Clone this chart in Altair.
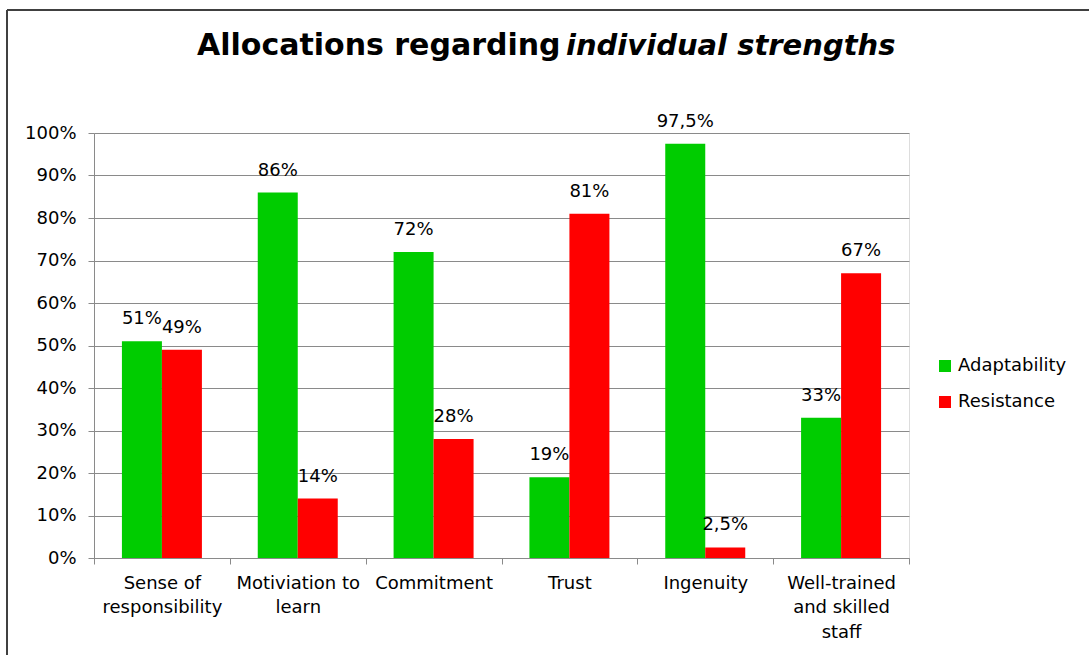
import altair as alt
import pandas as pd

categories = ["Sense of responsibility", "Motiviation to learn", "Commitment",
              "Trust", "Ingenuity", "Well-trained and skilled staff"]
label_lines = ["Sense of|responsibility", "Motiviation to|learn", "Commitment",
               "Trust", "Ingenuity", "Well-trained|and skilled|staff"]
series = ["Adaptability", "Resistance"]
adaptability = [51, 86, 72, 19, 97.5, 33]
resistance = [49, 14, 28, 81, 2.5, 67]
colors = ["#00CC00", "#FF0000"]
y_ticks = [0, 10, 20, 30, 40, 50, 60, 70, 80, 90, 100]

rows = []
for i, c in enumerate(label_lines):
    for s, vals in zip(series, [adaptability, resistance]):
        v = vals[i]
        rows.append({"category": c, "series": s, "value": v,
                     "label": f"{v:g}%".replace(".", ",")})
df = pd.DataFrame(rows)

FONT = "DejaVu Sans"
GRAY = "#8a8a8a"

x_enc = alt.X("category:N", sort=label_lines, title=None,
              scale=alt.Scale(paddingInner=0, paddingOuter=0),
              axis=alt.Axis(labelAngle=0, tickBand="extent", labelExpr="split(datum.label, '|')",
                            labelFontSize=18, labelFont=FONT, labelColor="#000000",
                            labelLineHeight=24.5, labelPadding=19, tickSize=6,
                            domainColor=GRAY, tickColor=GRAY, grid=False,
                            labelBaseline="middle"))
xo = alt.XOffset("series:N", sort=series,
                 scale=alt.Scale(paddingInner=0, paddingOuter=0.698))

base = alt.Chart(df)
bars = base.mark_bar().encode(
    x=x_enc, xOffset=xo,
    y=alt.Y("value:Q", title=None,
            scale=alt.Scale(domain=[0, 100], nice=False),
            axis=alt.Axis(values=y_ticks, labelExpr="datum.value + '%'",
                          labelFontSize=18, labelFont=FONT, labelColor="#000000",
                          tickSize=6, labelPadding=12, gridColor=GRAY,
                          domainColor=GRAY, tickColor=GRAY)),
    color=alt.Color("series:N", sort=series,
                    scale=alt.Scale(domain=series, range=colors),
                    legend=alt.Legend(title=None, orient="none", legendX=842, legendY=224,
                                      labelFontSize=18, labelFont=FONT, labelColor="#000000",
                                      symbolType="square", symbolSize=144, symbolStrokeWidth=0,
                                      rowPadding=18, labelOffset=4)),
)
texts = base.mark_text(dy=-22, fontSize=18, font=FONT, color="#000000", baseline="middle").encode(
    x=x_enc, xOffset=xo, y="value:Q", text="label:N")

title_df = pd.DataFrame({"a": ["Allocations regarding"], "b": ["individual strengths"]})
t1 = alt.Chart(title_df).mark_text(align="left", baseline="alphabetic", fontSize=30, font=FONT,
                                  fontWeight="bold", color="#000000").encode(
    x=alt.value(103), y=alt.value(-78), text="a:N")
t2 = alt.Chart(title_df).mark_text(align="left", baseline="alphabetic", fontSize=29, font=FONT,
                                  fontWeight="bold", fontStyle="italic", color="#000000").encode(
    x=alt.value(472), y=alt.value(-78), text="b:N")

frame_df = pd.DataFrame({"k": [0]})
top_line = alt.Chart(frame_df).mark_rule(color="#404040", strokeWidth=2).encode(
    x=alt.value(-87), x2=alt.value(1000), y=alt.value(-123))
left_line = alt.Chart(frame_df).mark_rule(color="#404040", strokeWidth=2).encode(
    x=alt.value(-87), y=alt.value(-123), y2=alt.value(530))

chart = alt.layer(bars, texts, t1, t2, top_line, left_line).properties(
    width=815, height=425,
    autosize=alt.AutoSizeParams(type="none"),
    padding={"left": 94, "top": 133, "right": 180, "bottom": 97},
).configure_view(stroke=None).configure(background="white")

chart.save("out.html", embed_options={"renderer": "svg", "actions": False})
